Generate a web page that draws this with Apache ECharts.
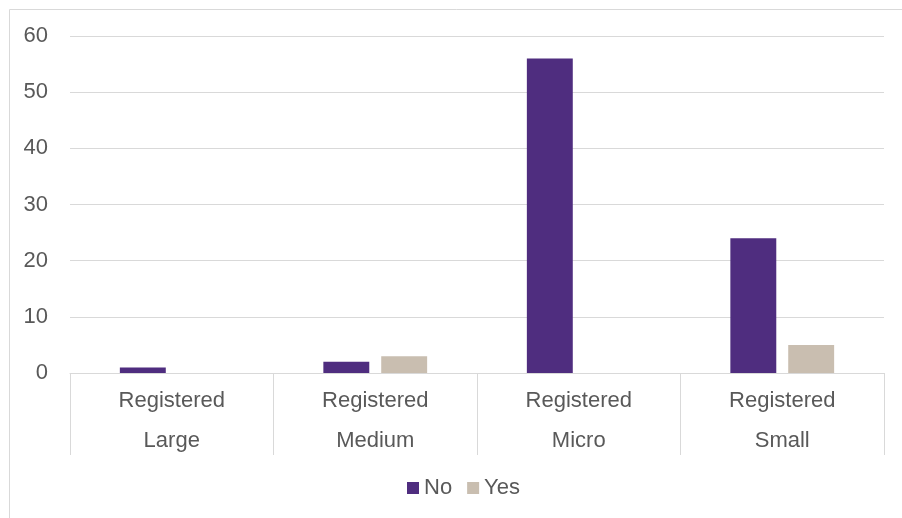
<!DOCTYPE html>
<html>
<head>
<meta charset="utf-8">
<script src="https://cdn.jsdelivr.net/npm/echarts@6/dist/echarts.min.js"></script>
<style>html,body{margin:0;padding:0;background:#fff}#c{width:902px;height:518px}</style>
</head>
<body>
<div id="c"></div>
<script>
var categories = ['Registered\nLarge', 'Registered\nMedium', 'Registered\nMicro', 'Registered\nSmall'];
var seriesNo = [1, 2, 56, 24];
var seriesYes = [0, 3, 0, 5];
var yTicks = [0, 10, 20, 30, 40, 50, 60];

var chart = echarts.init(document.getElementById('c'), null, {renderer: 'canvas'});
var font = 'Arial, "Liberation Sans", sans-serif';
chart.setOption({
  animation: false,
  textStyle: {fontFamily: font},
  graphic: [{
    type: 'rect', shape: {x: 9.5, y: 9.5, width: 1000, height: 1000},
    style: {fill: 'none', stroke: '#d9d9d9', lineWidth: 1}, silent: true
  }],
  grid: {left: 70, right: 18, top: 36, bottom: 145, containLabel: false},
  legend: {
    bottom: 14, left: 402, itemWidth: 12, itemHeight: 12, itemGap: 15,
    icon: 'rect',
    textStyle: {color: '#595959', fontSize: 22, fontFamily: font},
    data: ['No', 'Yes']
  },
  xAxis: {
    type: 'category', data: categories,
    axisLine: {show: true, lineStyle: {color: '#d9d9d9'}},
    axisTick: {show: true, interval: 0, alignWithLabel: false, length: 82, lineStyle: {color: '#d9d9d9'}},
    axisLabel: {color: '#595959', fontSize: 22, lineHeight: 40, margin: 8, fontFamily: font}
  },
  yAxis: {
    type: 'value', min: yTicks[0], max: yTicks[yTicks.length - 1], interval: 10,
    axisLine: {show: false}, axisTick: {show: false},
    splitLine: {lineStyle: {color: '#d9d9d9'}},
    axisLabel: {color: '#595959', fontSize: 22, margin: 22, fontFamily: font}
  },
  series: [
    {name: 'No', type: 'bar', data: seriesNo, itemStyle: {color: '#4f2d7f'},
     barGap: '26%', barCategoryGap: '49%'},
    {name: 'Yes', type: 'bar', data: seriesYes, itemStyle: {color: '#c9beb0'},
     barGap: '26%', barCategoryGap: '49%'}
  ]
});
</script>
</body>
</html>
